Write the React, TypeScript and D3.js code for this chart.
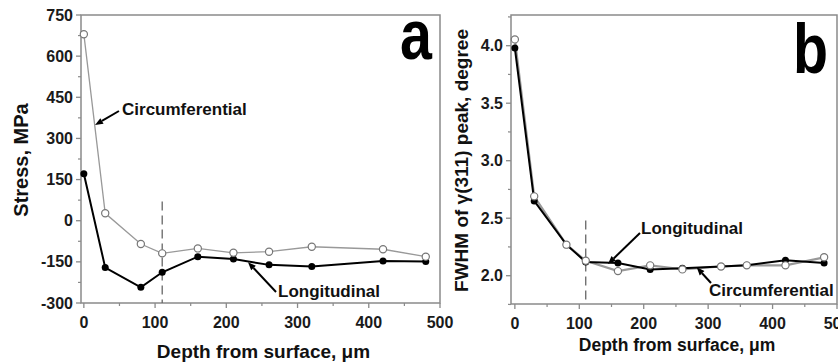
import React from "react";
import * as d3 from "d3";

// ---- Data ----
const depthA = [0, 30, 80, 110, 160, 210, 260, 320, 420, 480];
const stressCirc = [680, 27, -85, -119, -101, -117, -113, -95, -104, -131];
const stressLong = [171, -171, -243, -188, -131, -140, -161, -167, -147, -149];

const depthB = [0, 30, 80, 110, 160, 210, 260, 320, 360, 420, 480];
const fwhmLong = [3.98, 2.65, 2.27, 2.12, 2.11, 2.055, 2.065, 2.08, 2.09, 2.135, 2.11];
const fwhmCirc = [4.055, 2.69, 2.27, 2.13, 2.04, 2.09, 2.055, 2.08, 2.09, 2.09, 2.16];

const xTicks = [0, 100, 200, 300, 400, 500];
const xMinor = [50, 150, 250, 350, 450];
const yTicksA = [-300, -150, 0, 150, 300, 450, 600, 750];
const yMinorA = [-225, -75, 75, 225, 375, 525, 675];
const yTicksB = [2.0, 2.5, 3.0, 3.5, 4.0];
const yMinorB = [1.75, 2.25, 2.75, 3.25, 3.75, 4.25];

const FONT = "'Liberation Sans', Arial, sans-serif";
const AXIS = "#8a8a8a";

type Ann = { text: string; tx: number; ty: number; ax: number; ay: number; bx: number; by: number };

const annA: Ann[] = [
  { text: "Circumferential", tx: 53.6, ty: 385, ax: 49.3, ay: 400, bx: 15.7, by: 349 },
  { text: "Longitudinal", tx: 272.6, ty: -278, ax: 269.8, ay: -260, bx: 230.5, by: -151 },
];
const annB: Ann[] = [
  { text: "Longitudinal", tx: 195.8, ty: 2.363, ax: 194.2, ay: 2.371, bx: 144.5, by: 2.102 },
  { text: "Circumferential", tx: 301.3, ty: 1.824, ax: 304.4, ay: 1.937, bx: 282.2, by: 2.073 },
];

type PanelProps = {
  xDom: [number, number];
  xRange: [number, number];
  yDom: [number, number];
  yRange: [number, number];
  yTicks: number[];
  yMinor: number[];
  yFmt: (v: number) => string;
  xs: number[];
  circ: number[];
  lng: number[];
  circWidth: number;
  dashTop: number;
  anns: Ann[];
  letter: string;
  letterPos: [number, number];
  yLabel: React.ReactNode;
  yLabelX: number;
  yLabelSize: number;
  xLabelSize: number;
  xLabelY: number;
};

function Arrow({ x1, y1, x2, y2 }: { x1: number; y1: number; x2: number; y2: number }) {
  const ang = Math.atan2(y2 - y1, x2 - x1);
  const L = 8, W = 3.2;
  const bx = x2 - L * Math.cos(ang), by = y2 - L * Math.sin(ang);
  const px = -Math.sin(ang) * W, py = Math.cos(ang) * W;
  return (
    <g>
      <line x1={x1} y1={y1} x2={bx} y2={by} stroke="#000" strokeWidth={2} />
      <polygon points={`${x2},${y2} ${bx + px},${by + py} ${bx - px},${by - py}`} fill="#000" />
    </g>
  );
}

function Panel(p: PanelProps) {
  const x = d3.scaleLinear().domain(p.xDom).range(p.xRange);
  const y = d3.scaleLinear().domain(p.yDom).range(p.yRange);
  const [x0, x1] = p.xRange;
  const [yb, yt] = p.yRange;
  const lineC = d3.line<number>().x((_, i) => x(p.xs[i])).y((d) => y(d));
  return (
    <g>
      {/* frame */}
      <rect x={x0} y={yt} width={x1 - x0} height={yb - yt} fill="none" stroke={AXIS} strokeWidth={1.5} />
      {/* y ticks */}
      {p.yTicks.map((t) => (
        <g key={"yt" + t}>
          <line x1={x0 - 5} x2={x0} y1={y(t)} y2={y(t)} stroke={AXIS} strokeWidth={1.3} />
          <text x={x0 - 8} y={y(t)} dy="0.35em" textAnchor="end" fontFamily={FONT} fontWeight="bold" fontSize={16} fill="#1a1a1a">
            {p.yFmt(t)}
          </text>
        </g>
      ))}
      {p.yMinor.map((t) => (
        <line key={"ym" + t} x1={x0 - 3} x2={x0} y1={y(t)} y2={y(t)} stroke={AXIS} strokeWidth={1.2} />
      ))}
      {/* x ticks */}
      {xTicks.map((t) => (
        <g key={"xt" + t}>
          <line x1={x(t)} x2={x(t)} y1={yb} y2={yb + 5} stroke={AXIS} strokeWidth={1.3} />
          <text x={x(t)} y={yb + 25} textAnchor="middle" fontFamily={FONT} fontWeight="bold" fontSize={16} fill="#1a1a1a">
            {t}
          </text>
        </g>
      ))}
      {xMinor.map((t) => (
        <line key={"xm" + t} x1={x(t)} x2={x(t)} y1={yb} y2={yb + 3} stroke={AXIS} strokeWidth={1.2} />
      ))}
      {/* dashed vertical line */}
      <line x1={x(110)} x2={x(110)} y1={y(p.dashTop)} y2={yb} stroke="#666" strokeWidth={1.3} strokeDasharray="9,5" />
      {/* series */}
      <path d={lineC(p.circ) || ""} fill="none" stroke="#999" strokeWidth={p.circWidth} />
      <path d={lineC(p.lng) || ""} fill="none" stroke="#000" strokeWidth={2} />
      {p.lng.map((v, i) => (
        <circle key={"l" + i} cx={x(p.xs[i])} cy={y(v)} r={3.5} fill="#000" />
      ))}
      {p.circ.map((v, i) => (
        <circle key={"c" + i} cx={x(p.xs[i])} cy={y(v)} r={3.6} fill="#fff" stroke="#777" strokeWidth={1.2} />
      ))}
      {/* annotations */}
      {p.anns.map((a, i) => (
        <g key={"a" + i}>
          <Arrow x1={x(a.ax)} y1={y(a.ay)} x2={x(a.bx)} y2={y(a.by)} />
          <text x={x(a.tx)} y={y(a.ty)} fontFamily={FONT} fontWeight="bold" fontSize={17} fill="#111">
            {a.text}
          </text>
        </g>
      ))}
      {/* panel letter */}
      <text
        transform={`translate(${p.letterPos[0]},${p.letterPos[1]}) scale(0.82,1)`}
        fontFamily={FONT}
        fontWeight="bold"
        fontSize={70}
        fill="#000"
      >
        {p.letter}
      </text>
      {/* axis labels */}
      <text
        transform={`translate(${p.yLabelX},${(yb + yt) / 2 + 1}) rotate(-90)`}
        textAnchor="middle"
        fontFamily={FONT}
        fontWeight="bold"
        fontSize={p.yLabelSize}
        fill="#111"
      >
        {p.yLabel}
      </text>
      <text x={(x0 + x1) / 2 + 3} y={p.xLabelY} textAnchor="middle" fontFamily={FONT} fontWeight="bold" fontSize={p.xLabelSize} fill="#111">
        Depth from surface, μm
      </text>
    </g>
  );
}

export default function App() {
  return (
    <svg width={838} height={363} style={{ position: "absolute", left: 0, top: 0, background: "#fff" }}>
      <rect width={838} height={363} fill="#fff" />
      <Panel
        xDom={[-4, 500]}
        xRange={[81, 440]}
        yDom={[-300, 750]}
        yRange={[303, 15]}
        yTicks={yTicksA}
        yMinor={yMinorA}
        yFmt={(v) => String(v)}
        xs={depthA}
        circ={stressCirc}
        lng={stressLong}
        circWidth={1.3}
        dashTop={70}
        anns={annA}
        letter="a"
        letterPos={[400, 59]}
        yLabel="Stress, MPa"
        yLabelX={28}
        yLabelSize={20}
        xLabelSize={19}
        xLabelY={358}
      />
      <Panel
        xDom={[-6, 500]}
        xRange={[511, 837]}
        yDom={[1.754, 4.267]}
        yRange={[304, 15]}
        yTicks={yTicksB}
        yMinor={yMinorB}
        yFmt={(v) => v.toFixed(1)}
        xs={depthB}
        circ={fwhmCirc}
        lng={fwhmLong}
        circWidth={2.2}
        dashTop={2.48}
        anns={annB}
        letter="b"
        letterPos={[793, 73]}
        yLabel="FWHM of γ(311) peak, degree"
        yLabelX={468}
        yLabelSize={19}
        xLabelSize={17.5}
        xLabelY={351}
      />
    </svg>
  );
}
